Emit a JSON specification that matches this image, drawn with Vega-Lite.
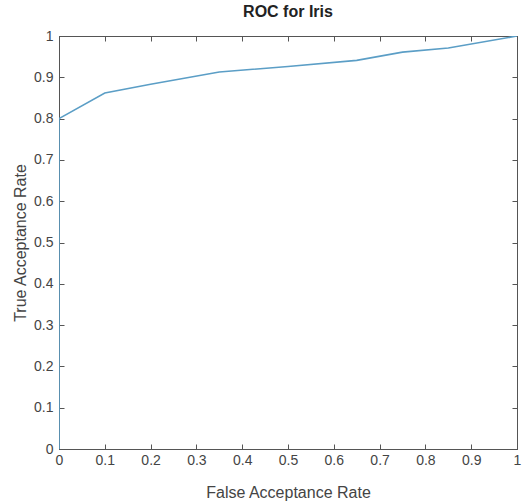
{
  "$schema": "https://vega.github.io/schema/vega-lite/v6.json",
  "width": 458,
  "height": 413,
  "autosize": {"type": "none"},
  "padding": {"left": 59, "top": 36, "right": 11, "bottom": 55},
  "background": "white",
  "title": {"text": "ROC for Iris", "font": "Liberation Sans", "fontSize": 16, "fontWeight": "bold", "color": "#222222", "offset": 9},
  "data": {"values": [
    {"far": 0, "tar": 0},
    {"far": 0, "tar": 0.8},
    {"far": 0.1, "tar": 0.862},
    {"far": 0.2, "tar": 0.883},
    {"far": 0.35, "tar": 0.913},
    {"far": 0.5, "tar": 0.926},
    {"far": 0.65, "tar": 0.941},
    {"far": 0.75, "tar": 0.961},
    {"far": 0.85, "tar": 0.971},
    {"far": 1, "tar": 1}
  ]},
  "config": {
    "view": {"stroke": "#555555", "strokeWidth": 1},
    "axis": {
      "labelFont": "Liberation Sans", "labelFontSize": 14, "labelColor": "#444444",
      "titleFont": "Liberation Sans", "titleFontSize": 16, "titleColor": "#444444", "titleFontWeight": "normal",
      "domainColor": "#555555", "tickColor": "#555555", "tickSize": -5, "grid": false,
      "labelOverlap": false, "labelFlush": false
    }
  },
  "layer": [
    {
      "mark": {"type": "line", "color": "#5b9ec6", "strokeWidth": 1.6, "clip": true},
      "encoding": {
        "x": {"field": "far", "type": "quantitative", "scale": {"domain": [0, 1], "nice": false},
          "axis": {"title": "False Acceptance Rate", "values": [0,0.1,0.2,0.3,0.4,0.5,0.6,0.7,0.8,0.9,1], "labelPadding": 9, "titlePadding": 17, "labelExpr": "datum.value == 0 ? '0' : datum.value == 1 ? '1' : format(datum.value, '.1f')"}},
        "y": {"field": "tar", "type": "quantitative", "scale": {"domain": [0, 1], "nice": false},
          "axis": {"title": "True Acceptance Rate", "values": [0,0.1,0.2,0.3,0.4,0.5,0.6,0.7,0.8,0.9,1], "labelPadding": 11, "titlePadding": 5, "labelExpr": "datum.value == 0 ? '0' : datum.value == 1 ? '1' : format(datum.value, '.1f')"}}
      }
    },
    {
      "mark": {"type": "line", "opacity": 0},
      "encoding": {
        "x": {"field": "far", "type": "quantitative", "scale": {"domain": [0, 1], "nice": false},
          "axis": {"orient": "top", "title": null, "labels": false, "values": [0,0.1,0.2,0.3,0.4,0.5,0.6,0.7,0.8,0.9,1]}},
        "y": {"field": "tar", "type": "quantitative", "scale": {"domain": [0, 1], "nice": false},
          "axis": {"orient": "right", "title": null, "labels": false, "values": [0,0.1,0.2,0.3,0.4,0.5,0.6,0.7,0.8,0.9,1]}}
      }
    }
  ],
  "resolve": {"axis": {"x": "independent", "y": "independent"}}
}
